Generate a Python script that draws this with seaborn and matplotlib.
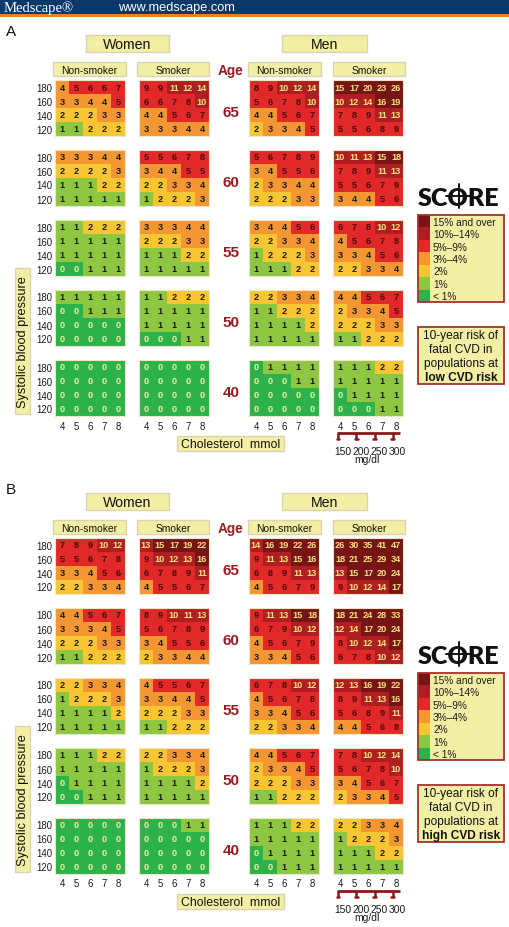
import numpy as np
import matplotlib
matplotlib.use("Agg")
import matplotlib.pyplot as plt
from matplotlib.colors import ListedColormap
from matplotlib.patches import Rectangle
from matplotlib.lines import Line2D
import seaborn as sns

# ---------------- data ----------------
ages = [65, 60, 55, 50, 40]
sbp = [180, 160, 140, 120]
chol_mmol = [4, 5, 6, 7, 8]
chol_mgdl = [150, 200, 250, 300]
risk_labels = ["15% and over", "10%\u201314%", "5%\u20139%", "3%\u20134%", "2%", "1%", "< 1%"]
risk_bins = [1, 2, 3, 5, 10, 15]
risk_colors = ["#2db14b", "#8dc641", "#f8c633", "#f49631", "#e2292a", "#ae1f24", "#761416"]
text_colors = ["#e6f39c", "#1a1a1a", "#1a1a1a", "#1a1a1a", "#4a0a0a", "#f7e27c", "#f7e27c"]

low_women_nonsmoker = [
    [[4, 5, 6, 6, 7], [3, 3, 4, 4, 5], [2, 2, 2, 3, 3], [1, 1, 2, 2, 2]],
    [[3, 3, 3, 4, 4], [2, 2, 2, 2, 3], [1, 1, 1, 2, 2], [1, 1, 1, 1, 1]],
    [[1, 1, 2, 2, 2], [1, 1, 1, 1, 1], [1, 1, 1, 1, 1], [0, 0, 1, 1, 1]],
    [[1, 1, 1, 1, 1], [0, 0, 1, 1, 1], [0, 0, 0, 0, 0], [0, 0, 0, 0, 0]],
    [[0, 0, 0, 0, 0], [0, 0, 0, 0, 0], [0, 0, 0, 0, 0], [0, 0, 0, 0, 0]],
]
low_women_smoker = [
    [[9, 9, 11, 12, 14], [6, 6, 7, 8, 10], [4, 4, 5, 6, 7], [3, 3, 3, 4, 4]],
    [[5, 5, 6, 7, 8], [3, 4, 4, 5, 5], [2, 2, 3, 3, 4], [1, 2, 2, 2, 3]],
    [[3, 3, 3, 4, 4], [2, 2, 2, 3, 3], [1, 1, 1, 2, 2], [1, 1, 1, 1, 1]],
    [[1, 1, 2, 2, 2], [1, 1, 1, 1, 1], [1, 1, 1, 1, 1], [0, 0, 0, 1, 1]],
    [[0, 0, 0, 0, 0], [0, 0, 0, 0, 0], [0, 0, 0, 0, 0], [0, 0, 0, 0, 0]],
]
low_men_nonsmoker = [
    [[8, 9, 10, 12, 14], [5, 6, 7, 8, 10], [4, 4, 5, 6, 7], [2, 3, 3, 4, 5]],
    [[5, 6, 7, 8, 9], [3, 4, 5, 5, 6], [2, 3, 3, 4, 4], [2, 2, 2, 3, 3]],
    [[3, 4, 4, 5, 6], [2, 2, 3, 3, 4], [1, 2, 2, 2, 3], [1, 1, 1, 2, 2]],
    [[2, 2, 3, 3, 4], [1, 1, 2, 2, 2], [1, 1, 1, 1, 2], [1, 1, 1, 1, 1]],
    [[0, 1, 1, 1, 1], [0, 0, 0, 1, 1], [0, 0, 0, 0, 0], [0, 0, 0, 0, 0]],
]
low_men_smoker = [
    [[15, 17, 20, 23, 26], [10, 12, 14, 16, 19], [7, 8, 9, 11, 13], [5, 5, 6, 8, 9]],
    [[10, 11, 13, 15, 18], [7, 8, 9, 11, 13], [5, 5, 6, 7, 9], [3, 4, 4, 5, 6]],
    [[6, 7, 8, 10, 12], [4, 5, 6, 7, 8], [3, 3, 4, 5, 6], [2, 2, 3, 3, 4]],
    [[4, 4, 5, 6, 7], [2, 3, 3, 4, 5], [2, 2, 2, 3, 3], [1, 1, 2, 2, 2]],
    [[1, 1, 1, 2, 2], [1, 1, 1, 1, 1], [0, 1, 1, 1, 1], [0, 0, 0, 1, 1]],
]
high_women_nonsmoker = [
    [[7, 8, 9, 10, 12], [5, 5, 6, 7, 8], [3, 3, 4, 5, 6], [2, 2, 3, 3, 4]],
    [[4, 4, 5, 6, 7], [3, 3, 3, 4, 5], [2, 2, 2, 3, 3], [1, 1, 2, 2, 2]],
    [[2, 2, 3, 3, 4], [1, 2, 2, 2, 3], [1, 1, 1, 1, 2], [1, 1, 1, 1, 1]],
    [[1, 1, 1, 2, 2], [1, 1, 1, 1, 1], [0, 1, 1, 1, 1], [0, 0, 1, 1, 1]],
    [[0, 0, 0, 0, 0], [0, 0, 0, 0, 0], [0, 0, 0, 0, 0], [0, 0, 0, 0, 0]],
]
high_women_smoker = [
    [[13, 15, 17, 19, 22], [9, 10, 12, 13, 16], [6, 7, 8, 9, 11], [4, 5, 5, 6, 7]],
    [[8, 9, 10, 11, 13], [5, 6, 7, 8, 9], [3, 4, 5, 5, 6], [2, 3, 3, 4, 4]],
    [[4, 5, 5, 6, 7], [3, 3, 4, 4, 5], [2, 2, 2, 3, 3], [1, 1, 2, 2, 2]],
    [[2, 2, 3, 3, 4], [1, 2, 2, 2, 3], [1, 1, 1, 1, 2], [1, 1, 1, 1, 1]],
    [[0, 0, 0, 1, 1], [0, 0, 0, 0, 0], [0, 0, 0, 0, 0], [0, 0, 0, 0, 0]],
]
high_men_nonsmoker = [
    [[14, 16, 19, 22, 26], [9, 11, 13, 15, 16], [6, 8, 9, 11, 13], [4, 5, 6, 7, 9]],
    [[9, 11, 13, 15, 18], [6, 7, 9, 10, 12], [4, 5, 6, 7, 9], [3, 3, 4, 5, 6]],
    [[6, 7, 8, 10, 12], [4, 5, 6, 7, 8], [3, 3, 4, 5, 6], [2, 2, 3, 3, 4]],
    [[4, 4, 5, 6, 7], [2, 3, 3, 4, 5], [2, 2, 2, 3, 3], [1, 1, 2, 2, 2]],
    [[1, 1, 1, 2, 2], [1, 1, 1, 1, 1], [0, 1, 1, 1, 1], [0, 0, 1, 1, 1]],
]
high_men_smoker = [
    [[26, 30, 35, 41, 47], [18, 21, 25, 29, 34], [13, 15, 17, 20, 24], [9, 10, 12, 14, 17]],
    [[18, 21, 24, 28, 33], [12, 14, 17, 20, 24], [8, 10, 12, 14, 17], [6, 7, 8, 10, 12]],
    [[12, 13, 16, 19, 22], [8, 9, 11, 13, 16], [5, 6, 8, 9, 11], [4, 4, 5, 6, 8]],
    [[7, 8, 10, 12, 14], [5, 6, 7, 8, 10], [3, 4, 5, 6, 7], [2, 3, 3, 4, 5]],
    [[2, 2, 3, 3, 4], [1, 2, 2, 2, 3], [1, 1, 1, 2, 2], [1, 1, 1, 1, 1]],
]

# ---------------- styling ----------------
sns.set_theme(style="white")
plt.rcParams['font.family'] = ['Liberation Sans', 'DejaVu Sans']

W, H = 510, 928
fig = plt.figure(figsize=(W / 100, H / 100), dpi=100)
fig.patch.set_facecolor("white")

cmap = ListedColormap(risk_colors)
BOX_FC = "#f2efa4"
BOX_EC = "#ddd3b2"
DARKRED = "#9b1c22"
CELL_FONT = ['Liberation Sans Narrow', 'Liberation Sans', 'DejaVu Sans']


def fx(x):
    return x / W


def fy(y):
    return 1 - y / H


def rect(x0, y0, x1, y1, fc, ec="none", lw=0.0, z=1):
    fig.add_artist(Rectangle((fx(x0), fy(y1)), (x1 - x0) / W, (y1 - y0) / H,
                             transform=fig.transFigure, fc=fc, ec=ec, lw=lw, zorder=z))


def ftext(x, y, s, **kw):
    fig.text(fx(x), fy(y), s, **kw)


def label_box(x0, y0, x1, y1, s, size):
    rect(x0, y0, x1, y1, BOX_FC, BOX_EC, 1.0)
    ftext((x0 + x1) / 2, (y0 + y1) / 2 + 0.5, s, ha="center", va="center",
          fontsize=size, color="#111111")


# header bar
rect(0, 0, W, 15, "#0c386a")
rect(0, 15, W, 17.5, "#e8822a")
ftext(4, 8, "Medscape\u00ae", ha="left", va="center", fontsize=10.5, color="white",
      family=["Liberation Serif", "DejaVu Serif"])
ftext(118, 8, "www.medscape.com", ha="left", va="center", fontsize=9.2, color="white")

GRID_X = {"wn": 55, "ws": 139, "mn": 249, "ms": 333}
GW, GH = 70, 56
BLOCK_TOP = 81
BLOCK_STEP = 70


def draw_grid(x0, y0, block):
    vals = np.array(block, dtype=int)
    cats = np.digitize(vals, risk_bins)
    ax = fig.add_axes([fx(x0), fy(y0 + GH), GW / W, GH / H])
    sns.heatmap(cats, ax=ax, cmap=cmap, vmin=-0.5, vmax=6.5, cbar=False,
                annot=vals, fmt="d",
                annot_kws=dict(fontsize=6.6, fontweight="bold", family=CELL_FONT),
                xticklabels=False, yticklabels=False, linewidths=0)
    for t in ax.texts:
        xx, yy = t.get_position()
        t.set_color(text_colors[cats[int(yy), int(xx)]])
    for sp in ax.spines.values():
        sp.set_visible(True)
        sp.set_color("#ece6c4")
        sp.set_linewidth(0.8)
    return ax


def draw_panel(dy, letter, wn, ws, mn, ms, risk_word):
    ftext(6, 32 + dy, letter, ha="left", va="center", fontsize=11, color="#111111")
    label_box(86, 36 + dy, 169, 53 + dy, "Women", 10.2)
    label_box(282, 36 + dy, 367, 53 + dy, "Men", 10.2)
    label_box(53, 63 + dy, 126, 77 + dy, "Non-smoker", 7.4)
    label_box(137, 63 + dy, 209, 77 + dy, "Smoker", 7.4)
    label_box(248, 63 + dy, 321, 77 + dy, "Non-smoker", 7.4)
    label_box(333, 63 + dy, 405, 77 + dy, "Smoker", 7.4)
    ftext(231, 71 + dy, "Age", ha="center", va="center", fontsize=9.8,
          fontweight="bold", color=DARKRED)

    for k, age in enumerate(ages):
        top = BLOCK_TOP + BLOCK_STEP * k + dy
        for key, data in (("wn", wn), ("ws", ws), ("mn", mn), ("ms", ms)):
            draw_grid(GRID_X[key], top, data[k])
        ftext(231, top + GH / 2 + 4, str(age), ha="center", va="center",
              fontsize=11, fontweight="bold", color=DARKRED)
        for r, bp in enumerate(sbp):
            ftext(52, top + 7 + 14 * r + 0.5, str(bp), ha="right", va="center",
                  fontsize=6.9, color="#1a1a1a")

    # cholesterol tick labels under the last block
    bottom = BLOCK_TOP + BLOCK_STEP * 4 + GH + dy
    for key in GRID_X:
        for j, c in enumerate(chol_mmol):
            ftext(GRID_X[key] + 7 + 14 * j, bottom + 9.5, str(c), ha="center",
                  va="center", fontsize=6.9, color="#1a1a1a")

    label_box(177, 437 + dy, 284, 452 + dy, "Cholesterol  mmol", 8.8)

    # mg/dl ruler aligned with the men-smoker grid
    rax = fig.add_axes([fx(GRID_X["ms"]), fy(444 + dy), GW / W, 14 / H])
    rax.set_xlim(0, 5)
    rax.set_ylim(14, 0)
    rax.axis("off")
    xs = [m / 38.67 - 3.5 for m in chol_mgdl]
    rax.plot([0.29, 4.79], [4, 4], color="#8a1a1a", lw=2.0, solid_capstyle="butt")
    for x in xs:
        rax.plot([x, x], [4, 9.5], color="#8a1a1a", lw=1.8, solid_capstyle="butt")
        rax.plot([x - 0.08, x + 0.08], [9.5, 9.5], color="#8a1a1a", lw=1.8)
    for x, m in zip(xs, chol_mgdl):
        ftext(GRID_X["ms"] + (x + 0.35) * 14, 452 + dy, str(m), ha="center",
              va="center", fontsize=7.4, color="#1a1a1a")
    ftext(367, 460 + dy, "mg/dl", ha="center", va="center", fontsize=7.4,
          color="#1a1a1a")

    # systolic blood pressure label
    rect(15, 269 + dy, 30, 415 + dy, BOX_FC, BOX_EC, 1.0)
    ftext(22.8, 342 + dy, "Systolic blood pressure", ha="center", va="center",
          rotation=90, fontsize=9.2, color="#111111")

    # SCORE logo
    ftext(459, 206 + dy, "SCORE", ha="center", va="baseline", fontsize=18,
          fontweight="heavy", family=["Lato", "DejaVu Sans"], color="#111111")
    fig.add_artist(Line2D([fx(459), fx(459)], [fy(185 + dy), fy(209 + dy)],
                          transform=fig.transFigure, color="#111111", lw=1.4))
    fig.add_artist(Line2D([fx(446), fx(472)], [fy(197 + dy), fy(197 + dy)],
                          transform=fig.transFigure, color="#111111", lw=1.4))

    # legend
    lx0, lx1, ly0, ly1 = 418, 504, 216 + dy, 303 + dy
    rect(lx0, ly0, lx1, ly1, BOX_FC, "none", 0)
    step = (ly1 - ly0) / len(risk_labels)
    for i, lab in enumerate(risk_labels):
        col = risk_colors[len(risk_colors) - 1 - i]
        rect(lx0, ly0 + i * step, lx0 + 12, ly0 + (i + 1) * step, col)
        ftext(lx0 + 15, ly0 + (i + 0.5) * step + 0.5, lab, ha="left", va="center",
              fontsize=7.3, color="#1a1a1a")
    rect(lx0, ly0, lx1, ly1, "none", "#a8302e", 1.3, z=3)

    # risk text box
    rect(418, 328 + dy, 504, 385 + dy, BOX_FC, "#a8302e", 1.3)
    lines = ["10-year risk of", "fatal CVD in", "populations at"]
    for i, s in enumerate(lines):
        ftext(461, 336 + 14 * i + dy, s, ha="center", va="center", fontsize=8.6,
              color="#111111")
    ftext(461, 378 + dy, risk_word, ha="center", va="center", fontsize=8.6,
          fontweight="bold", color="#111111")


draw_panel(0, "A", low_women_nonsmoker, low_women_smoker, low_men_nonsmoker,
           low_men_smoker, "low CVD risk")
draw_panel(458, "B", high_women_nonsmoker, high_women_smoker, high_men_nonsmoker,
           high_men_smoker, "high CVD risk")

fig.savefig("out.png", dpi=100, facecolor="white")
